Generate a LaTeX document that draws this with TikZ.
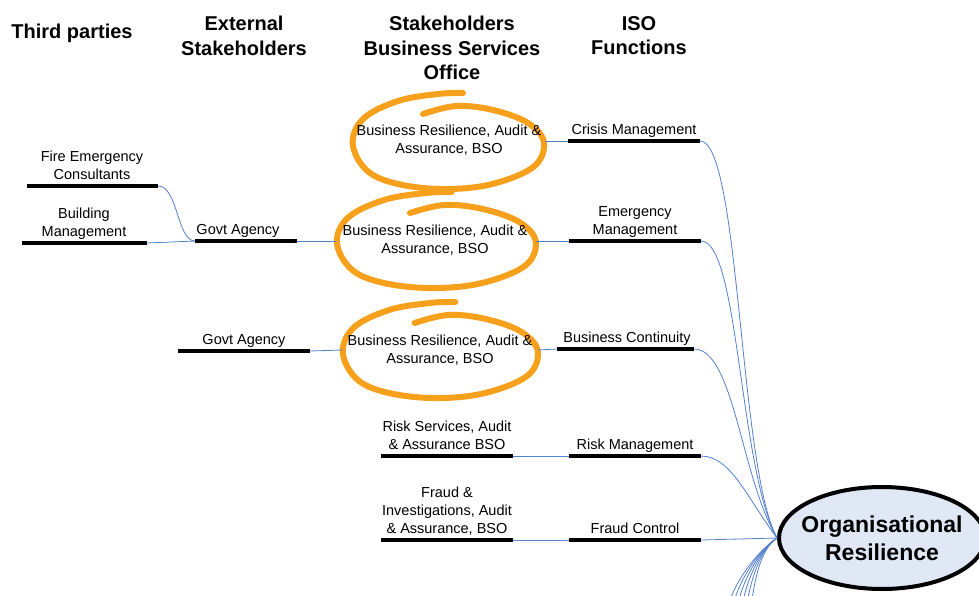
\documentclass[tikz,border=0pt]{standalone}
\usepackage{fontspec}
\setmainfont{Liberation Sans}
\usetikzlibrary{shapes.geometric}
\definecolor{conn}{RGB}{84,128,204}
\definecolor{hl}{RGB}{247,160,28}
\definecolor{orgfill}{RGB}{224,232,246}
\tikzset{
  lbl/.style={font=\fontsize{14.5}{18}\selectfont, align=center, anchor=south,
    inner sep=0pt, yshift=3.5pt, execute at end node={\vphantom{g}}},
  bar/.style={line width=4pt, black},
  link/.style={conn, line width=0.8pt},
  head/.style={font=\bfseries\fontsize{20}{24.5}\selectfont, align=center, anchor=north, inner sep=0pt},
  hoop/.style={hl, line width=6pt, line cap=round, line join=round},
  bso/.style={inner sep=0pt, font=\fontsize{14.5}{18}\selectfont, align=center},
  hoopshape/.pic={\draw[hoop] plot[smooth, tension=0.6] coordinates {
      (-25,-27) (8,-35) (45,-31) (80,-18) (96,2) (84,27) (35,45) (-25,47)
      (-75,34) (-95,5) (-85,-22) (-50,-40) (-10,-47) (15,-48)};}
}
\begin{document}
\begin{tikzpicture}[x=1pt,y=-1pt]
\useasboundingbox (0,0) rectangle (979,596);
\clip (0,0) rectangle (979,596);

% headings
\node[head] (h1) at (72,24) {Third parties};
\node[head] (h2) at (244,16) {External\\Stakeholders};
\node[head] (h3) at (452,16) {Stakeholders\\Business Services\\Office};
\node[head] (h4) at (639,16) {ISO\\Functions};

% bar end coordinates
\coordinate (fireL) at (27,186);   \coordinate (fireR) at (158,186);
\coordinate (bldgL) at (22,243);   \coordinate (bldgR) at (147,243);
\coordinate (gov1L) at (195,241);  \coordinate (gov1R) at (297,241);
\coordinate (gov2L) at (178,351);  \coordinate (gov2R) at (310,351);
\coordinate (crisisL) at (568,141); \coordinate (crisisR) at (700,141);
\coordinate (emergL) at (569,241);  \coordinate (emergR) at (701,241);
\coordinate (bcontL) at (557,349);  \coordinate (bcontR) at (694,349);
\coordinate (riskmL) at (569,456);  \coordinate (riskmR) at (701,456);
\coordinate (fraudcL) at (569,540); \coordinate (fraudcR) at (701,540);
\coordinate (risksL) at (381,456);  \coordinate (risksR) at (513,456);
\coordinate (fraudsL) at (381,540); \coordinate (fraudsR) at (513,540);

% bars
\foreach \b in {fire,bldg,gov1,gov2,crisis,emerg,bcont,riskm,fraudc,risks,frauds}
  \draw[bar] (\b L) -- (\b R);

% labels
\node[lbl] (fire) at (92,186) {Fire Emergency\\Consultants};
\node[lbl] (bldg) at (84,243) {Building\\Management};
\node[lbl] (gov1) at (238,241) {Govt Agency};
\node[lbl] (gov2) at (244,351) {Govt Agency};
\node[lbl] (crisis) at (634,141) {Crisis Management};
\node[lbl] (emerg) at (635,241) {Emergency\\Management};
\node[lbl] (bcont) at (627,349) {Business Continuity};
\node[lbl] (riskm) at (635,456) {Risk Management};
\node[lbl] (fraudc) at (635,540) {Fraud Control};
\node[lbl] (risks) at (447,456) {Risk Services, Audit\\\& Assurance BSO};
\node[lbl] (frauds) at (447,540) {Fraud \&\\Investigations, Audit\\\& Assurance, BSO};

% BSO highlighted entries: orange hand-drawn rings first, text on top
\pic at (448,141) {hoopshape};
\pic[xscale=1.04] at (436,240) {hoopshape};
\pic[xscale=1.02] at (440,350) {hoopshape};
\node[bso] (bso1) at (449,140) {Business Resilience, Audit \&\\Assurance, BSO};
\node[bso] (bso2) at (435,240.5) {Business Resilience, Audit \&\\Assurance, BSO};
\node[bso] (bso3) at (440,350) {Business Resilience, Audit \&\\Assurance, BSO};
\coordinate (bso1E) at (545,141);
\coordinate (bso2W) at (337,241); \coordinate (bso2E) at (536,241);
\coordinate (bso3W) at (343,350); \coordinate (bso3E) at (538,350);

% central node
\node[draw, ellipse, line width=4pt, fill=orgfill, minimum width=206pt, minimum height=102pt,
      inner sep=0pt] (org) at (882,538) {};
\node[align=center, inner sep=0pt, font=\bfseries\fontsize{23}{28}\selectfont] (orgtxt) at (org.center)
      {Organisational\\Resilience};

% connectors
\draw[link] (fireR) .. controls +(20,0) and +(-18,0) .. (gov1L);
\draw[link] (bldgR) -- (gov1L);
\draw[link] (gov1R) -- (bso2W);
\draw[link] (gov2R) -- (bso3W);
\draw[link] (bso1E) -- (crisisL);
\draw[link] (bso2E) -- (emergL);
\draw[link] (bso3E) -- (bcontL);
\draw[link] (risksR) -- (riskmL);
\draw[link] (fraudsR) -- (fraudcL);
\draw[link] (crisisR) .. controls +(40,0) and +(-38,-70) .. (org.west);
\draw[link] (emergR) .. controls +(38,0) and +(-38,-70) .. (org.west);
\draw[link] (bcontR) .. controls +(40,0) and +(-36,-60) .. (org.west);
\draw[link] (riskmR) .. controls +(30,0) and +(-30,-40) .. (org.west);
\draw[link] (fraudcR) -- (org.west);

% branches leaving below the picture
\foreach \k in {0,...,5} {
  \coordinate (down\k) at (724+5*\k,625);
  \draw[link] (org.west) .. controls +(-18,12) and +(4,-40) .. (down\k);
}
\end{tikzpicture}
\end{document}
